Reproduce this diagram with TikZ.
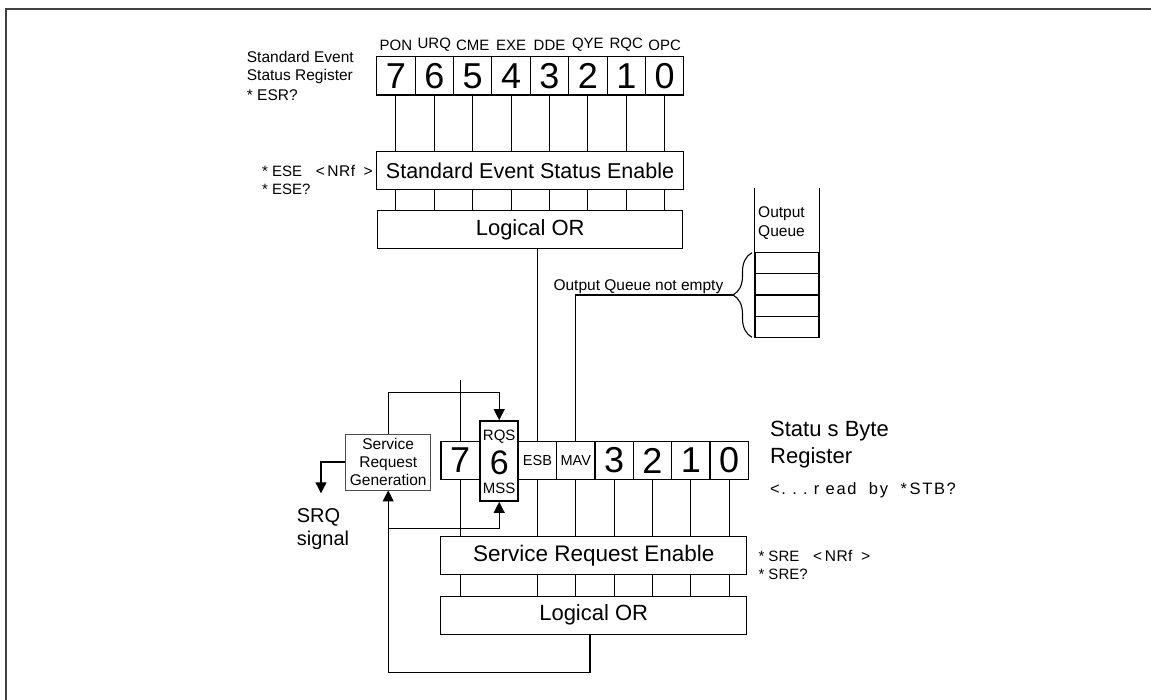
\documentclass[tikz,border=0pt]{standalone}
\usepackage{fontspec}
\setmainfont{Liberation Sans}
\usetikzlibrary{arrows.meta,decorations.pathreplacing}
\newcommand{\fs}[1]{\fontsize{#1}{#1}\selectfont}
\begin{document}
\begin{tikzpicture}[x=1pt,y=-1pt,
  ln/.style={line width=1.1pt},
  cell/.style={draw,line width=1.1pt,minimum width=38.4pt,minimum height=38.3pt,inner sep=0pt,font=\fs{36}},
  bigbox/.style={draw,line width=1.1pt,inner sep=0pt},
  arr/.style={line width=1.1pt,-{Triangle[width=11pt,length=11pt]}},
  lbl/.style={inner sep=0pt,anchor=base west},
  lble/.style={inner sep=0pt,anchor=base east},
]
\useasboundingbox (0,0) rectangle (1151,700);
\draw[line width=2pt,black!75] (6,700) -- (6,9) -- (1151,9);

% ---------- upper register ----------
\foreach \k in {0,...,7}{
  \pgfmathtruncatemacro\b{7-\k}
  \node[cell] (u\b) at ({376.7+38.4*(\k+0.5)},75.9) {\b};
}
\foreach \b/\t in {7/PON,6/URQ,5/CME,4/EXE,3/DDE,2/QYE,1/RQC,0/OPC}
  \node[font=\fs{15},inner sep=0pt] (lab\b) at ([yshift=30.9pt]u\b.center) {\t};

\node[lbl,font=\fs{15.5}] (ser1) at (246.7,62.3) {Standard Event};
\node[lbl,font=\fs{15.5}] (ser2) at (246.7,80.6) {Status Register};
\node[lbl,font=\fs{15.5}] (ser3) at (246.7,100.5) {* ESR?};

\node[bigbox,minimum width=306.6pt,minimum height=37.6pt,font=\fs{21.5}] (sese) at (530,170.5) {Standard Event Status Enable};
\node[bigbox,minimum width=305pt,minimum height=38.3pt,font=\fs{22}] (lor) at (530.2,229.8) {Logical OR};

\node[lbl,font=\fs{15}] (ese1) at (262,176.7) {* ESE};
\node[lble,font=\fs{15.5}] (ese1b) at (373,176.7) {<\,N\kern0.5ptR\kern0.5ptf\ \ >};
\node[lbl,font=\fs{15}] (ese2) at (262,195) {* ESE?};

\foreach \b in {0,...,7}{
  \draw[ln] (u\b.south) -- (u\b.south |- sese.north);
  \draw[ln] (u\b.south |- sese.south) -- (u\b.south |- lor.north);
}

% ---------- output queue ----------
\foreach \i in {1,...,4}
  \node[draw,ln,minimum width=64pt,minimum height=21.15pt,inner sep=0pt] (q\i) at (787,{252.7+21.15*(\i-0.5)}) {};
\draw[ln] (q1.north west) -- ++(0,-63.7);
\draw[ln] (q1.north east) -- ++(0,-63.7);
\node[lbl,font=\fs{15.5}] (oq1) at (758,217.5) {Output};
\node[lbl,font=\fs{15.5}] (oq2) at (758,236.3) {Queue};
\coordinate (bb) at (752,337.3);
\coordinate (bt) at (752,252.7);
\draw[ln,decorate,decoration={brace,amplitude=19pt}] (bb) -- (bt);
\coordinate (btip) at (733,295);
\node[font=\fs{15.5},inner sep=0pt,anchor=base] (oqne) at (638.4,290.5) {Output Queue not empty};

% ---------- status byte register ----------
\node[cell,minimum width=38.33pt,minimum height=37.6pt] (l7) at (460.2,460.5) {7};
\node[draw,line width=1.8pt,minimum width=38.3pt,minimum height=80pt,inner sep=0pt] (l6) at (499.2,461) {};
\node[font=\fs{34},inner sep=0pt] (l6n) at (499.2,462.5) {6};
\node[font=\fs{15},inner sep=0pt,anchor=base] (rqs) at (499.2,440.4) {RQS};
\node[font=\fs{15},inner sep=0pt,anchor=base] (mss) at (499.2,493) {MSS};
\node[cell,minimum width=38.33pt,minimum height=37.6pt,font=\fs{14.5}] (esb) at (537.5,460.5) {ESB};
\node[cell,minimum width=38.33pt,minimum height=37.6pt,font=\fs{14.5}] (mav) at (575.8,460.5) {MAV};
\node[cell,minimum width=38.33pt,minimum height=37.6pt] (l3) at (614.2,460.5) {3};
\node[cell,minimum width=38.33pt,minimum height=37.6pt] (l2) at (652.5,460.5) {2};
\node[cell,minimum width=38.33pt,minimum height=37.6pt] (l1) at (690.8,460.5) {1};
\node[cell,minimum width=38.33pt,minimum height=37.6pt] (l0) at (729.2,460.5) {0};

\node[lbl,font=\fs{22}] (sbr1) at (770,436.7) {Statu s Byte};
\node[lbl,font=\fs{22}] (sbr2) at (770,463.3) {Register};
\node[lbl,font=\fs{16.5}] (sbr3) at (770,494) {\addfontfeatures{LetterSpace=10}<.\ .\ .\ r ead\ \ by\ \ *\,STB?};

\node[bigbox,minimum width=306pt,minimum height=37.6pt,font=\fs{22.5}] (sre) at (593.7,555.5) {Service Request Enable};
\node[bigbox,minimum width=306pt,minimum height=38.3pt,font=\fs{22}] (lor2) at (593.7,615.2) {Logical OR};
\node[lbl,font=\fs{15}] (sre1) at (758.3,561.7) {* SRE};
\node[lbl,font=\fs{15.5}] (sre1b) at (813,561.7) {<\,N\kern0.5ptR\kern0.5ptf\ \ >};
\node[lbl,font=\fs{15}] (sre2) at (758.3,579) {* SRE?};

\coordinate (t7) at (460.2,380);
\draw[ln] (t7) -- (l7.north);
\draw[ln] (lor.south -| esb.north) -- (esb.north);
\draw[ln] (mav.north) |- (btip);
\foreach \n in {l7,esb,mav,l3,l2,l1,l0}{
  \draw[ln] (\n.south) -- (\n.south |- sre.north);
  \draw[ln] (\n.south |- sre.south) -- (\n.south |- lor2.north);
}

% ---------- service request generation ----------
\node[draw=black!70,line width=0.9pt,text=black,minimum width=85pt,minimum height=56pt,inner sep=0pt,align=center,font=\fontsize{15.5}{18}\selectfont] (srg) at (388.2,462) {Service\\Request\\Generation};
\coordinate (rq) at (499.2,392.7);
\draw[arr] (srg.north) |- (rq) -- (l6.north);
\coordinate (fb) at (590,672.7);
\draw[arr] (lor2.south -| fb) -- (fb) -| (srg.south);
\coordinate (jn) at (388.2,528.3);
\draw[arr] (jn) -| (l6.south);
\coordinate (srqe) at (321,493.3);
\draw[arr] (srg.west) -| (srqe);
\node[lbl,font=\fs{20}] (srq1) at (296.7,522.7) {SRQ};
\node[lbl,font=\fs{20}] (srq2) at (296.7,545) {signal};
\end{tikzpicture}
\end{document}
